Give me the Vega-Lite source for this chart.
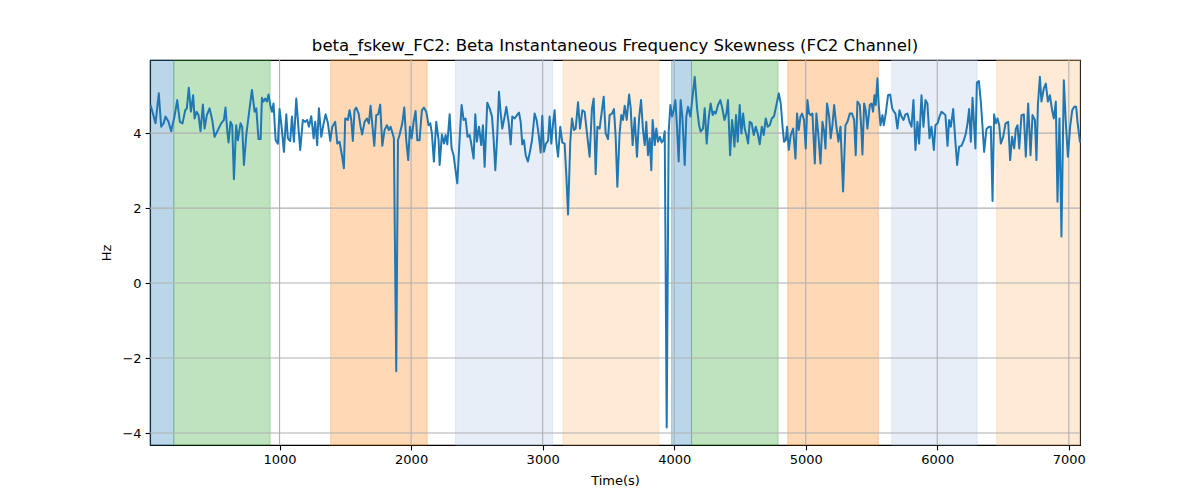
{
  "$schema": "https://vega.github.io/schema/vega-lite/v6.json",
  "width": 930,
  "height": 385,
  "autosize": {"type": "none"},
  "padding": {"left": 150, "top": 60, "right": 120, "bottom": 55},
  "background": "white",
  "title": {
    "text": "beta_fskew_FC2: Beta Instantaneous Frequency Skewness (FC2 Channel)",
    "font": "DejaVu Sans",
    "fontSize": 16.6,
    "fontWeight": "normal",
    "color": "black",
    "offset": 5
  },
  "config": {
    "view": {"stroke": "black", "strokeWidth": 1.1},
    "axis": {
      "grid": false,
      "domainColor": "black",
      "domainWidth": 1.1,
      "tickColor": "black",
      "tickWidth": 1.1,
      "tickSize": 4.9,
      "labelFont": "DejaVu Sans",
      "labelFontSize": 13,
      "labelColor": "black",
      "labelPadding": 4,
      "labelFlush": false,
      "titleFont": "DejaVu Sans",
      "titleFontSize": 13,
      "titleFontWeight": "normal",
      "titleColor": "black"
    }
  },
  "datasets": {
    "bands": [
      {"start": 15, "end": 196, "kind": "blue"},
      {"start": 196, "end": 928, "kind": "green"},
      {"start": 1388, "end": 2122, "kind": "orange"},
      {"start": 2338, "end": 3077, "kind": "lightblue"},
      {"start": 3154, "end": 3884, "kind": "lightorange"},
      {"start": 3980, "end": 4132, "kind": "blue"},
      {"start": 4132, "end": 4790, "kind": "green"},
      {"start": 4863, "end": 5552, "kind": "orange"},
      {"start": 5654, "end": 6303, "kind": "lightblue"},
      {"start": 6452, "end": 7085, "kind": "lightorange"}
    ],
    "xgrid": [{"gx": 1000}, {"gx": 2000}, {"gx": 3000}, {"gx": 4000}, {"gx": 5000}, {"gx": 6000}, {"gx": 7000}],
    "ygrid": [{"gy": -4}, {"gy": -2}, {"gy": 0}, {"gy": 2}, {"gy": 4}],
    "series": [
      {"t": 19, "v": 4.75}, {"t": 37, "v": 4.52}, {"t": 57, "v": 4.26}, {"t": 82, "v": 5.06}, {"t": 100, "v": 4.17},
      {"t": 118, "v": 4.26}, {"t": 133, "v": 4.44}, {"t": 156, "v": 4.30}, {"t": 176, "v": 4.05}, {"t": 201, "v": 4.44},
      {"t": 222, "v": 4.88}, {"t": 242, "v": 4.30}, {"t": 262, "v": 4.26}, {"t": 283, "v": 4.61}, {"t": 295, "v": 4.66},
      {"t": 310, "v": 5.21}, {"t": 326, "v": 4.57}, {"t": 343, "v": 5.01}, {"t": 354, "v": 4.39}, {"t": 369, "v": 4.57},
      {"t": 384, "v": 4.48}, {"t": 399, "v": 4.05}, {"t": 417, "v": 4.76}, {"t": 430, "v": 4.12}, {"t": 447, "v": 4.48},
      {"t": 468, "v": 4.66}, {"t": 488, "v": 4.35}, {"t": 506, "v": 3.90}, {"t": 531, "v": 4.08}, {"t": 556, "v": 4.26},
      {"t": 577, "v": 4.35}, {"t": 589, "v": 4.68}, {"t": 602, "v": 4.08}, {"t": 612, "v": 3.75}, {"t": 627, "v": 4.30},
      {"t": 640, "v": 4.21}, {"t": 653, "v": 2.77}, {"t": 670, "v": 4.21}, {"t": 683, "v": 3.81}, {"t": 703, "v": 4.26},
      {"t": 716, "v": 4.17}, {"t": 729, "v": 3.15}, {"t": 747, "v": 3.95}, {"t": 767, "v": 4.52}, {"t": 790, "v": 5.15},
      {"t": 810, "v": 4.57}, {"t": 823, "v": 4.66}, {"t": 840, "v": 3.84}, {"t": 856, "v": 3.84}, {"t": 866, "v": 4.94},
      {"t": 878, "v": 4.84}, {"t": 891, "v": 4.92}, {"t": 904, "v": 4.84}, {"t": 916, "v": 5.03}, {"t": 932, "v": 4.70},
      {"t": 942, "v": 4.57}, {"t": 954, "v": 4.79}, {"t": 970, "v": 3.81}, {"t": 987, "v": 3.72}, {"t": 1000, "v": 4.64},
      {"t": 1018, "v": 4.08}, {"t": 1033, "v": 3.50}, {"t": 1051, "v": 4.50}, {"t": 1063, "v": 3.86}, {"t": 1081, "v": 3.79},
      {"t": 1094, "v": 4.44}, {"t": 1109, "v": 3.77}, {"t": 1127, "v": 4.92}, {"t": 1144, "v": 4.12}, {"t": 1157, "v": 3.55},
      {"t": 1177, "v": 4.35}, {"t": 1195, "v": 4.30}, {"t": 1210, "v": 4.35}, {"t": 1223, "v": 4.17}, {"t": 1241, "v": 4.45},
      {"t": 1259, "v": 3.86}, {"t": 1271, "v": 4.30}, {"t": 1286, "v": 3.68}, {"t": 1299, "v": 4.66}, {"t": 1317, "v": 3.90},
      {"t": 1335, "v": 4.26}, {"t": 1350, "v": 4.50}, {"t": 1368, "v": 4.26}, {"t": 1385, "v": 3.79}, {"t": 1401, "v": 4.17},
      {"t": 1423, "v": 4.30}, {"t": 1439, "v": 3.72}, {"t": 1456, "v": 3.77}, {"t": 1474, "v": 3.41}, {"t": 1489, "v": 3.06},
      {"t": 1499, "v": 4.39}, {"t": 1519, "v": 4.35}, {"t": 1532, "v": 4.61}, {"t": 1545, "v": 4.35}, {"t": 1557, "v": 3.79},
      {"t": 1570, "v": 4.61}, {"t": 1583, "v": 4.68}, {"t": 1601, "v": 4.52}, {"t": 1616, "v": 4.17}, {"t": 1628, "v": 3.96},
      {"t": 1646, "v": 4.30}, {"t": 1664, "v": 4.39}, {"t": 1679, "v": 4.26}, {"t": 1692, "v": 4.73}, {"t": 1704, "v": 4.26},
      {"t": 1720, "v": 3.66}, {"t": 1735, "v": 4.48}, {"t": 1750, "v": 4.50}, {"t": 1765, "v": 4.76}, {"t": 1781, "v": 3.66},
      {"t": 1798, "v": 4.08}, {"t": 1816, "v": 4.21}, {"t": 1831, "v": 4.08}, {"t": 1844, "v": 4.17}, {"t": 1857, "v": 4.02},
      {"t": 1869, "v": 3.86}, {"t": 1887, "v": -2.35}, {"t": 1900, "v": 3.81}, {"t": 1912, "v": 3.95}, {"t": 1933, "v": 4.26},
      {"t": 1948, "v": 4.68}, {"t": 1963, "v": 3.81}, {"t": 1978, "v": 3.28}, {"t": 1991, "v": 4.17}, {"t": 2004, "v": 3.86},
      {"t": 2019, "v": 4.30}, {"t": 2034, "v": 4.59}, {"t": 2047, "v": 3.81}, {"t": 2064, "v": 3.81}, {"t": 2082, "v": 4.61},
      {"t": 2097, "v": 4.68}, {"t": 2115, "v": 4.57}, {"t": 2133, "v": 4.21}, {"t": 2146, "v": 4.26}, {"t": 2158, "v": 3.99},
      {"t": 2173, "v": 3.24}, {"t": 2191, "v": 4.30}, {"t": 2209, "v": 3.81}, {"t": 2217, "v": 3.15}, {"t": 2234, "v": 3.96},
      {"t": 2250, "v": 3.72}, {"t": 2262, "v": 3.95}, {"t": 2275, "v": 3.70}, {"t": 2293, "v": 4.50}, {"t": 2308, "v": 3.59},
      {"t": 2323, "v": 3.41}, {"t": 2336, "v": 3.06}, {"t": 2351, "v": 2.66}, {"t": 2369, "v": 3.86}, {"t": 2384, "v": 4.75},
      {"t": 2399, "v": 4.35}, {"t": 2414, "v": 4.39}, {"t": 2429, "v": 3.90}, {"t": 2445, "v": 3.95}, {"t": 2457, "v": 3.72},
      {"t": 2475, "v": 3.32}, {"t": 2488, "v": 4.50}, {"t": 2500, "v": 3.77}, {"t": 2516, "v": 4.17}, {"t": 2533, "v": 3.68},
      {"t": 2546, "v": 4.21}, {"t": 2559, "v": 3.10}, {"t": 2579, "v": 4.81}, {"t": 2597, "v": 4.66}, {"t": 2615, "v": 4.44},
      {"t": 2627, "v": 3.86}, {"t": 2640, "v": 3.01}, {"t": 2655, "v": 3.95}, {"t": 2668, "v": 5.10}, {"t": 2680, "v": 4.57},
      {"t": 2693, "v": 4.12}, {"t": 2711, "v": 4.44}, {"t": 2724, "v": 4.70}, {"t": 2741, "v": 4.30}, {"t": 2757, "v": 3.70},
      {"t": 2769, "v": 4.44}, {"t": 2787, "v": 4.39}, {"t": 2805, "v": 4.48}, {"t": 2820, "v": 4.55}, {"t": 2833, "v": 4.30},
      {"t": 2845, "v": 3.70}, {"t": 2858, "v": 3.81}, {"t": 2871, "v": 3.41}, {"t": 2888, "v": 3.24}, {"t": 2906, "v": 3.55},
      {"t": 2919, "v": 3.81}, {"t": 2939, "v": 4.52}, {"t": 2954, "v": 4.35}, {"t": 2970, "v": 3.95}, {"t": 2985, "v": 3.48},
      {"t": 2997, "v": 4.46}, {"t": 3010, "v": 3.50}, {"t": 3025, "v": 3.72}, {"t": 3041, "v": 3.79}, {"t": 3053, "v": 4.44},
      {"t": 3066, "v": 3.72}, {"t": 3079, "v": 4.26}, {"t": 3091, "v": 4.61}, {"t": 3104, "v": 3.77}, {"t": 3117, "v": 3.37},
      {"t": 3134, "v": 4.17}, {"t": 3149, "v": 3.75}, {"t": 3167, "v": 3.72}, {"t": 3180, "v": 2.88}, {"t": 3193, "v": 1.83},
      {"t": 3210, "v": 3.77}, {"t": 3223, "v": 4.39}, {"t": 3238, "v": 4.08}, {"t": 3251, "v": 4.12}, {"t": 3269, "v": 4.82},
      {"t": 3284, "v": 4.12}, {"t": 3302, "v": 4.61}, {"t": 3319, "v": 4.57}, {"t": 3337, "v": 3.99}, {"t": 3357, "v": 3.37},
      {"t": 3375, "v": 4.66}, {"t": 3388, "v": 4.92}, {"t": 3403, "v": 2.90}, {"t": 3416, "v": 4.17}, {"t": 3433, "v": 4.12},
      {"t": 3451, "v": 4.61}, {"t": 3464, "v": 4.97}, {"t": 3479, "v": 3.99}, {"t": 3497, "v": 3.84}, {"t": 3509, "v": 4.48},
      {"t": 3527, "v": 4.52}, {"t": 3542, "v": 4.64}, {"t": 3555, "v": 3.90}, {"t": 3568, "v": 2.57}, {"t": 3585, "v": 3.99},
      {"t": 3598, "v": 4.48}, {"t": 3611, "v": 4.35}, {"t": 3624, "v": 4.73}, {"t": 3639, "v": 4.35}, {"t": 3657, "v": 5.03},
      {"t": 3669, "v": 4.68}, {"t": 3684, "v": 3.68}, {"t": 3700, "v": 4.41}, {"t": 3717, "v": 3.37}, {"t": 3733, "v": 4.39},
      {"t": 3748, "v": 4.88}, {"t": 3763, "v": 4.08}, {"t": 3776, "v": 3.68}, {"t": 3788, "v": 4.30}, {"t": 3801, "v": 3.41},
      {"t": 3814, "v": 3.86}, {"t": 3826, "v": 3.01}, {"t": 3836, "v": 4.35}, {"t": 3852, "v": 3.68}, {"t": 3864, "v": 4.12},
      {"t": 3877, "v": 3.77}, {"t": 3892, "v": 3.90}, {"t": 3905, "v": 3.75}, {"t": 3918, "v": 3.81}, {"t": 3928, "v": 4.05},
      {"t": 3943, "v": -3.85}, {"t": 3958, "v": 4.03}, {"t": 3971, "v": 4.75}, {"t": 3984, "v": 4.44}, {"t": 3996, "v": 4.61},
      {"t": 4009, "v": 4.88}, {"t": 4022, "v": 4.12}, {"t": 4034, "v": 3.24}, {"t": 4049, "v": 4.88}, {"t": 4062, "v": 4.44},
      {"t": 4080, "v": 3.15}, {"t": 4092, "v": 4.44}, {"t": 4105, "v": 4.70}, {"t": 4123, "v": 4.44}, {"t": 4138, "v": 4.92},
      {"t": 4156, "v": 5.50}, {"t": 4174, "v": 4.66}, {"t": 4189, "v": 4.21}, {"t": 4201, "v": 4.04}, {"t": 4219, "v": 4.12},
      {"t": 4232, "v": 4.66}, {"t": 4247, "v": 3.72}, {"t": 4262, "v": 4.39}, {"t": 4277, "v": 4.79}, {"t": 4293, "v": 4.48},
      {"t": 4303, "v": 4.57}, {"t": 4316, "v": 4.52}, {"t": 4333, "v": 4.75}, {"t": 4351, "v": 4.88}, {"t": 4366, "v": 4.66},
      {"t": 4382, "v": 4.35}, {"t": 4397, "v": 4.52}, {"t": 4409, "v": 4.88}, {"t": 4425, "v": 3.41}, {"t": 4440, "v": 4.35},
      {"t": 4448, "v": 4.08}, {"t": 4458, "v": 3.64}, {"t": 4470, "v": 4.48}, {"t": 4483, "v": 3.77}, {"t": 4498, "v": 4.75},
      {"t": 4511, "v": 3.99}, {"t": 4524, "v": 4.52}, {"t": 4536, "v": 4.12}, {"t": 4549, "v": 3.95}, {"t": 4562, "v": 3.72},
      {"t": 4574, "v": 4.30}, {"t": 4589, "v": 4.26}, {"t": 4605, "v": 3.95}, {"t": 4620, "v": 4.17}, {"t": 4635, "v": 3.99},
      {"t": 4650, "v": 3.70}, {"t": 4666, "v": 4.17}, {"t": 4681, "v": 3.95}, {"t": 4696, "v": 4.39}, {"t": 4711, "v": 4.17},
      {"t": 4726, "v": 4.21}, {"t": 4742, "v": 4.39}, {"t": 4759, "v": 4.45}, {"t": 4777, "v": 4.75}, {"t": 4795, "v": 5.06},
      {"t": 4810, "v": 4.79}, {"t": 4825, "v": 4.12}, {"t": 4835, "v": 3.77}, {"t": 4848, "v": 3.81}, {"t": 4858, "v": 4.17},
      {"t": 4871, "v": 3.55}, {"t": 4886, "v": 3.95}, {"t": 4904, "v": 4.12}, {"t": 4922, "v": 3.32}, {"t": 4934, "v": 4.52},
      {"t": 4947, "v": 4.08}, {"t": 4960, "v": 4.44}, {"t": 4972, "v": 4.52}, {"t": 4987, "v": 4.35}, {"t": 5000, "v": 3.59},
      {"t": 5013, "v": 4.88}, {"t": 5025, "v": 4.52}, {"t": 5038, "v": 4.48}, {"t": 5051, "v": 4.52}, {"t": 5069, "v": 3.19},
      {"t": 5081, "v": 4.52}, {"t": 5096, "v": 3.95}, {"t": 5112, "v": 3.19}, {"t": 5127, "v": 4.30}, {"t": 5140, "v": 4.04},
      {"t": 5150, "v": 3.59}, {"t": 5162, "v": 4.79}, {"t": 5178, "v": 4.44}, {"t": 5190, "v": 3.86}, {"t": 5203, "v": 4.21},
      {"t": 5216, "v": 4.75}, {"t": 5233, "v": 4.17}, {"t": 5249, "v": 3.77}, {"t": 5264, "v": 4.17}, {"t": 5284, "v": 2.44},
      {"t": 5302, "v": 4.21}, {"t": 5317, "v": 4.30}, {"t": 5335, "v": 4.52}, {"t": 5352, "v": 4.52}, {"t": 5368, "v": 4.35},
      {"t": 5380, "v": 3.41}, {"t": 5393, "v": 4.84}, {"t": 5411, "v": 4.75}, {"t": 5423, "v": 4.08}, {"t": 5431, "v": 3.43},
      {"t": 5444, "v": 4.79}, {"t": 5456, "v": 4.61}, {"t": 5469, "v": 4.12}, {"t": 5487, "v": 4.75}, {"t": 5500, "v": 4.79},
      {"t": 5512, "v": 4.57}, {"t": 5522, "v": 5.01}, {"t": 5532, "v": 4.75}, {"t": 5545, "v": 5.46}, {"t": 5555, "v": 4.75},
      {"t": 5568, "v": 4.21}, {"t": 5583, "v": 4.48}, {"t": 5593, "v": 4.21}, {"t": 5608, "v": 4.52}, {"t": 5626, "v": 5.01},
      {"t": 5642, "v": 5.03}, {"t": 5657, "v": 4.66}, {"t": 5669, "v": 4.58}, {"t": 5682, "v": 4.52}, {"t": 5697, "v": 4.12},
      {"t": 5713, "v": 4.61}, {"t": 5728, "v": 4.44}, {"t": 5743, "v": 4.35}, {"t": 5758, "v": 4.50}, {"t": 5773, "v": 4.52},
      {"t": 5789, "v": 4.30}, {"t": 5804, "v": 4.17}, {"t": 5819, "v": 4.88}, {"t": 5834, "v": 3.55}, {"t": 5849, "v": 4.30},
      {"t": 5862, "v": 3.72}, {"t": 5880, "v": 5.01}, {"t": 5895, "v": 4.17}, {"t": 5910, "v": 4.88}, {"t": 5925, "v": 4.79},
      {"t": 5941, "v": 3.86}, {"t": 5956, "v": 4.17}, {"t": 5974, "v": 3.55}, {"t": 5986, "v": 4.21}, {"t": 6002, "v": 4.26},
      {"t": 6017, "v": 4.44}, {"t": 6032, "v": 4.57}, {"t": 6050, "v": 4.52}, {"t": 6062, "v": 4.48}, {"t": 6078, "v": 3.66},
      {"t": 6090, "v": 4.35}, {"t": 6103, "v": 4.17}, {"t": 6121, "v": 4.64}, {"t": 6136, "v": 3.86}, {"t": 6151, "v": 3.15},
      {"t": 6166, "v": 3.64}, {"t": 6184, "v": 3.66}, {"t": 6202, "v": 3.81}, {"t": 6217, "v": 3.99}, {"t": 6230, "v": 4.26},
      {"t": 6242, "v": 4.64}, {"t": 6255, "v": 3.77}, {"t": 6268, "v": 4.94}, {"t": 6280, "v": 4.21}, {"t": 6290, "v": 3.59},
      {"t": 6301, "v": 5.35}, {"t": 6316, "v": 5.39}, {"t": 6331, "v": 4.84}, {"t": 6344, "v": 4.17}, {"t": 6356, "v": 3.50},
      {"t": 6374, "v": 4.11}, {"t": 6392, "v": 4.17}, {"t": 6407, "v": 4.17}, {"t": 6420, "v": 2.19}, {"t": 6432, "v": 4.50},
      {"t": 6445, "v": 4.26}, {"t": 6458, "v": 4.39}, {"t": 6471, "v": 4.21}, {"t": 6483, "v": 3.72}, {"t": 6501, "v": 3.90},
      {"t": 6519, "v": 4.26}, {"t": 6539, "v": 4.30}, {"t": 6554, "v": 3.28}, {"t": 6569, "v": 3.90}, {"t": 6585, "v": 3.59},
      {"t": 6597, "v": 4.11}, {"t": 6610, "v": 4.21}, {"t": 6623, "v": 3.59}, {"t": 6640, "v": 4.48}, {"t": 6658, "v": 4.50},
      {"t": 6673, "v": 3.37}, {"t": 6691, "v": 4.79}, {"t": 6709, "v": 3.41}, {"t": 6724, "v": 4.48}, {"t": 6742, "v": 4.35},
      {"t": 6754, "v": 3.28}, {"t": 6765, "v": 4.75}, {"t": 6780, "v": 5.50}, {"t": 6792, "v": 4.84}, {"t": 6810, "v": 5.19},
      {"t": 6825, "v": 5.32}, {"t": 6841, "v": 4.84}, {"t": 6856, "v": 5.01}, {"t": 6874, "v": 4.59}, {"t": 6886, "v": 4.39},
      {"t": 6901, "v": 4.84}, {"t": 6914, "v": 2.17}, {"t": 6929, "v": 4.39}, {"t": 6944, "v": 1.24}, {"t": 6962, "v": 5.41},
      {"t": 6977, "v": 4.30}, {"t": 6993, "v": 3.37}, {"t": 7010, "v": 4.17}, {"t": 7026, "v": 4.61}, {"t": 7041, "v": 4.70},
      {"t": 7056, "v": 4.70}, {"t": 7066, "v": 4.30}, {"t": 7085, "v": 3.75}
    ]
  },
  "layer": [
    {
      "data": {"name": "bands"},
      "mark": {"type": "rect", "fillOpacity": 0.3, "strokeOpacity": 0.3, "strokeWidth": 1},
      "encoding": {
        "x": {
          "field": "start", "type": "quantitative",
          "scale": {"domain": [15, 7085], "nice": false, "zero": false},
          "axis": {"title": "Time(s)", "values": [1000, 2000, 3000, 4000, 5000, 6000, 7000], "format": "d", "titlePadding": 8}
        },
        "x2": {"field": "end"},
        "fill": {
          "field": "kind", "type": "nominal", "legend": null,
          "scale": {"domain": ["blue", "green", "orange", "lightblue", "lightorange"], "range": ["#1f77b4", "#2ca02c", "#ff7f0e", "#aec7e8", "#ffbb78"]}
        },
        "stroke": {
          "field": "kind", "type": "nominal", "legend": null,
          "scale": {"domain": ["blue", "green", "orange", "lightblue", "lightorange"], "range": ["#1f77b4", "#2ca02c", "#ff7f0e", "#aec7e8", "#ffbb78"]}
        }
      }
    },
    {
      "data": {"name": "xgrid"},
      "mark": {"type": "rule", "color": "#b0b0b0", "strokeWidth": 1.1},
      "encoding": {
        "x": {
          "field": "gx", "type": "quantitative",
          "scale": {"domain": [15, 7085], "nice": false, "zero": false},
          "axis": {"title": "Time(s)", "values": [1000, 2000, 3000, 4000, 5000, 6000, 7000], "format": "d", "titlePadding": 8}
        }
      }
    },
    {
      "data": {"name": "ygrid"},
      "mark": {"type": "rule", "color": "#b0b0b0", "strokeWidth": 1.1},
      "encoding": {
        "y": {
          "field": "gy", "type": "quantitative",
          "scale": {"domain": [-4.32, 5.95], "nice": false, "zero": false},
          "axis": {"title": "Hz", "values": [-4, -2, 0, 2, 4], "format": "d", "titlePadding": 8}
        }
      }
    },
    {
      "data": {"name": "series"},
      "mark": {"type": "line", "color": "#1f77b4", "strokeWidth": 2, "strokeJoin": "round"},
      "encoding": {
        "x": {
          "field": "t", "type": "quantitative",
          "scale": {"domain": [15, 7085], "nice": false, "zero": false},
          "axis": {"title": "Time(s)", "values": [1000, 2000, 3000, 4000, 5000, 6000, 7000], "format": "d", "titlePadding": 8}
        },
        "y": {
          "field": "v", "type": "quantitative",
          "scale": {"domain": [-4.32, 5.95], "nice": false, "zero": false},
          "axis": {"title": "Hz", "values": [-4, -2, 0, 2, 4], "format": "d", "titlePadding": 8}
        }
      }
    }
  ]
}
